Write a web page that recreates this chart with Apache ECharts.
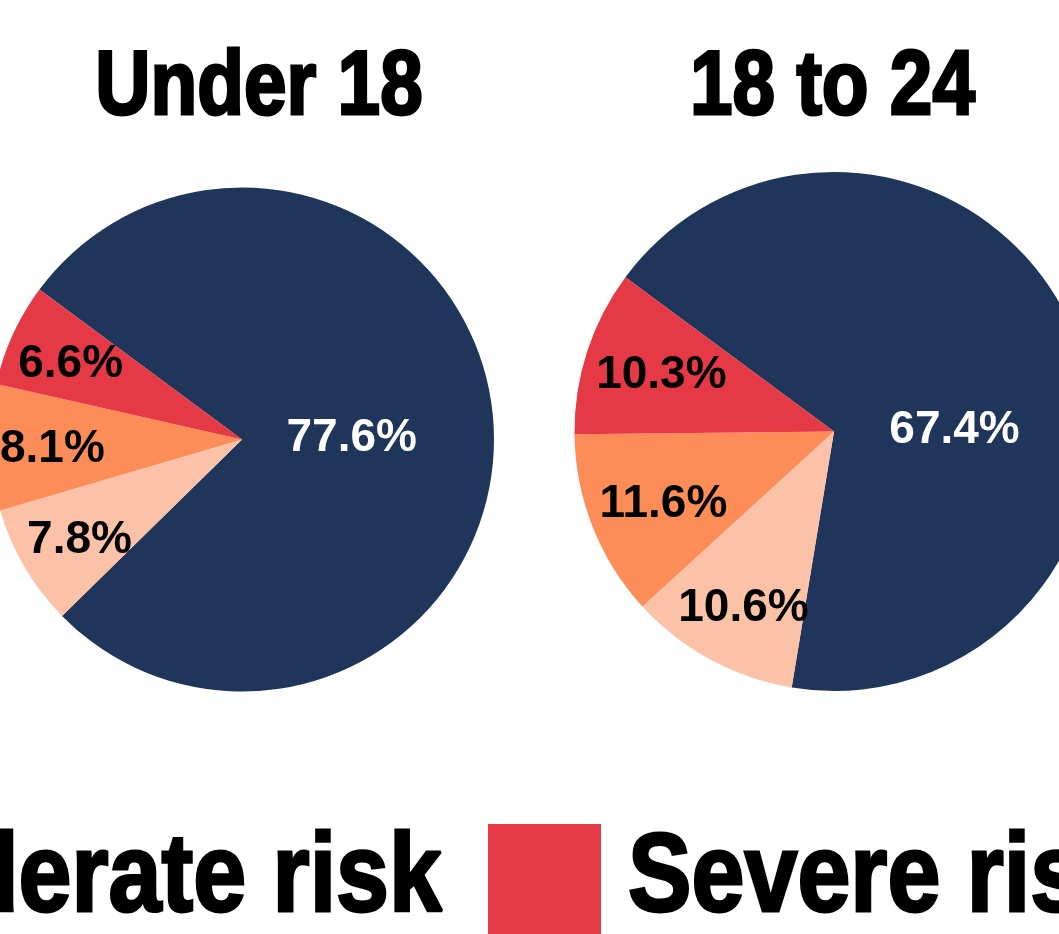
<!DOCTYPE html>
<html>
<head>
<meta charset="utf-8">
<script src="https://cdn.jsdelivr.net/npm/echarts@6/dist/echarts.min.js"></script>
<style>
  html, body { margin: 0; padding: 0; background: #ffffff; }
  #chart { width: 1059px; height: 934px; }
</style>
</head>
<body>
<div id="chart"></div>
<script>
// Risk categories, in drawing order (clockwise from the start angle)
const riskLevels = ['No risk', 'Low risk', 'Moderate risk', 'Severe risk'];
const ageGroups = ['Under 18', '18 to 24'];
// Share of each age group in each risk category (%)
const under18Shares = [77.6, 7.8, 8.1, 6.6];
const age18to24Shares = [67.4, 10.6, 11.6, 10.3];

const riskColors = ['#1F3559', '#FCC2A8', '#FC8D59', '#E63946'];
const FONT = '"Liberation Sans", Arial, sans-serif';
// Headline lettering is drawn horizontally condensed
const CONDENSE = 0.85;

// Geometry of the two pies; labelRing = radial fraction where small-slice labels sit,
// labelNudge = small per-slice label shifts in pixels
const pieLayouts = [
  { title: ageGroups[0], values: under18Shares, center: [242, 439.5], radius: 252, titleX: 259,
    labelRing: 0.745, bigLabelOffset: [-19, 7.5],
    labelNudge: [[0, 0], [2, 4], [1, 4], [2, 4]] },
  { title: ageGroups[1], values: age18to24Shares, center: [834, 431.5], radius: 259.5, titleX: 832.5,
    labelRing: 0.72, bigLabelOffset: [-2.5, 48.5],
    labelNudge: [[0, 0], [0, 10], [6, 3], [8, 2]] }
];
const START_ANGLE = 143.5;

const pctLabel = {
  formatter: p => p.value.toFixed(1) + '%',
  fontFamily: FONT,
  fontWeight: 'bold',
  fontSize: 46
};

const series = [];
// Filled pies; the largest slice carries its own label
pieLayouts.forEach(p => {
  series.push({
    type: 'pie',
    name: p.title,
    center: p.center,
    radius: p.radius,
    startAngle: START_ANGLE,
    clockwise: true,
    silent: true,
    animation: false,
    labelLine: { show: false },
    label: Object.assign({ show: false }, pctLabel),
    itemStyle: { borderWidth: 0 },
    emphasis: { disabled: true },
    data: riskLevels.map((name, k) => ({
      name: name,
      value: p.values[k],
      itemStyle: { color: riskColors[k] },
      label: k === 0
        ? { show: true, position: 'inside', color: '#ffffff', offset: p.bigLabelOffset }
        : { show: false }
    }))
  });
});
// Transparent rings of the same data: their inside labels land further out for the small slices
pieLayouts.forEach(p => {
  series.push({
    type: 'pie',
    name: p.title + ' labels',
    center: p.center,
    radius: p.radius * 2 * p.labelRing,
    startAngle: START_ANGLE,
    clockwise: true,
    silent: true,
    animation: false,
    legendHoverLink: false,
    labelLine: { show: false },
    label: Object.assign({ position: 'inside', color: '#000000' }, pctLabel),
    itemStyle: { color: 'rgba(0,0,0,0)', borderWidth: 0 },
    emphasis: { disabled: true },
    data: riskLevels.map((name, k) => ({
      name: name,
      value: p.values[k],
      itemStyle: { color: 'rgba(0,0,0,0)' },
      label: { show: k !== 0, offset: p.labelNudge[k] }
    }))
  });
});

function headline(text, x, y, size, align) {
  return {
    type: 'text',
    x: x,
    y: y,
    scaleX: CONDENSE,
    silent: true,
    style: {
      text: text,
      fontFamily: FONT,
      fontWeight: 'bold',
      fontSize: size,
      fill: '#000000',
      stroke: '#000000',
      lineWidth: 3,
      align: align,
      verticalAlign: 'middle'
    }
  };
}

const graphics = pieLayouts.map(p => headline(p.title, p.titleX, 89, 90, 'center'));
// Legend captions (the swatch comes from the legend component)
graphics.push(headline(riskLevels[2], 442, 880, 112, 'right'));
graphics.push(headline(riskLevels[3], 628, 880, 112, 'left'));

const option = {
  backgroundColor: '#ffffff',
  animation: false,
  legend: {
    data: [riskLevels[3]],
    left: 488,
    top: 824,
    padding: 0,
    itemWidth: 113,
    itemHeight: 113,
    icon: 'rect',
    selectedMode: false,
    formatter: () => '',
    textStyle: { fontSize: 12 }
  },
  graphic: graphics,
  series: series
};

const chart = echarts.init(document.getElementById('chart'), null, { renderer: 'canvas' });
chart.setOption(option);
</script>
</body>
</html>
